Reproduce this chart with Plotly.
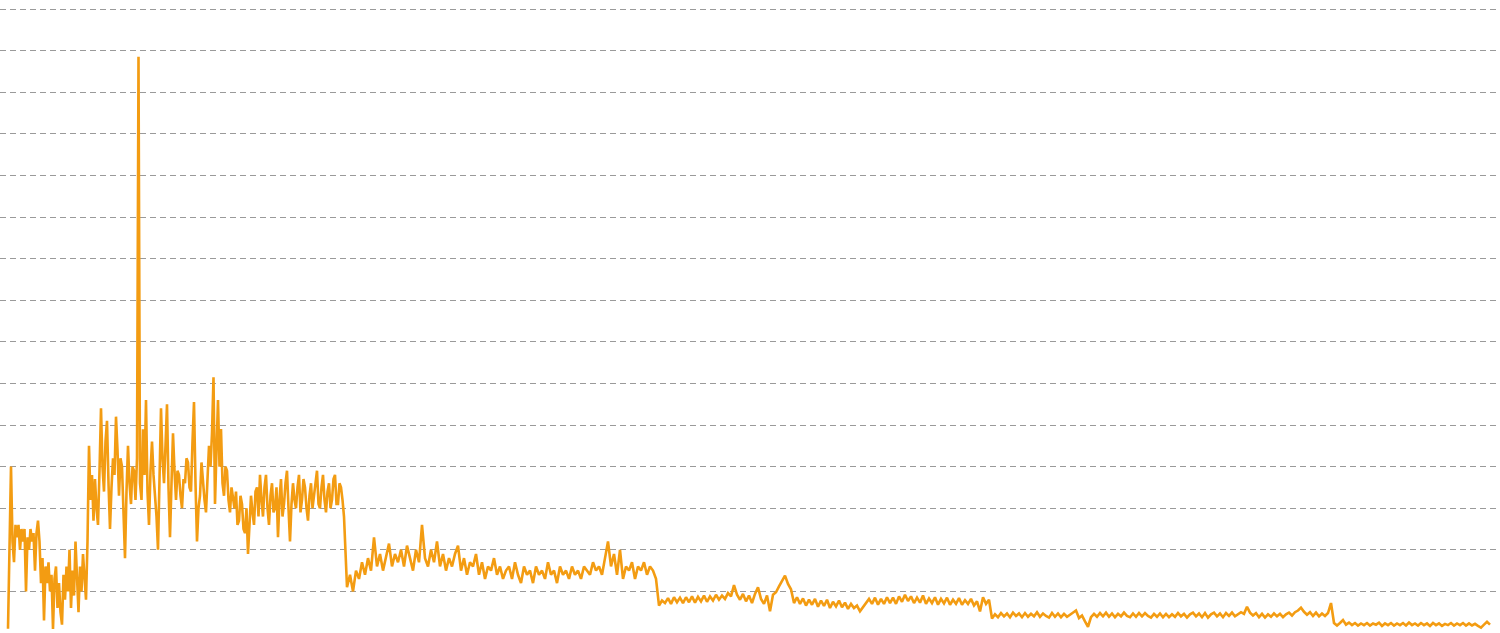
import plotly.graph_objects as go

# ---- Series values (chronological) ----
# Early, very noisy period (sampled twice as densely as the rest)
seg_ab = [0.1, 2.4, 4.0, 2.2, 1.7, 2.6, 2.3, 2.6, 2.0, 2.5,
          2.2, 2.5, 1.0, 2.3, 2.0, 2.5, 2.2, 2.4, 1.5, 2.4,
          2.7, 2.2, 1.2, 1.8, 0.3, 1.6, 1.2, 1.7, 1.0, 1.4,
          0.1, 1.3, 1.6, 0.6, 1.2, 0.5, 0.2, 1.4, 0.8, 1.6,
          1.0, 2.0, 0.6, 1.5, 0.9, 2.2, 1.2, 0.5, 1.6, 1.0,
          1.9, 1.3, 0.8, 2.2, 4.5, 3.2, 3.8, 2.7, 3.7, 3.0,
          2.6, 3.9, 5.4, 4.0, 3.4, 4.6, 5.1, 3.6, 2.5, 3.5,
          4.2, 3.8, 5.2, 4.4, 3.3, 4.2, 4.0, 2.9, 1.8, 3.4,
          4.5, 3.6, 3.1, 4.0, 3.9, 3.2, 4.2, 13.85, 3.6, 3.2,
          4.9, 3.8, 5.6, 3.4, 2.6, 3.9, 4.6, 3.8, 3.4, 2.8,
          2.0, 3.5, 5.4, 4.2, 3.6, 4.5, 5.5, 3.5, 2.3, 3.6,
          4.8, 3.9, 3.2, 3.9, 3.8, 3.3, 3.0, 3.7, 3.6, 4.2,
          4.1, 3.5, 3.4, 4.6, 5.55, 3.6, 2.2, 3.0, 3.3, 4.1,
          3.6, 3.2, 2.9, 3.8, 4.5, 4.0, 4.8, 6.15, 3.1, 4.4,
          5.6, 4.0, 4.9, 3.6, 3.3, 4.0, 3.9, 3.2, 2.9, 3.5,
          3.2, 3.0, 3.4, 2.6, 2.7, 3.3, 3.1, 2.5, 2.4, 3.0,
          1.9, 2.6, 3.3, 2.9, 2.6, 3.4, 3.5, 2.8, 3.8, 3.2,
          2.8, 3.5, 3.8, 3.0, 2.6, 3.3, 3.6, 2.9, 3.0, 3.5,
          2.3, 3.2, 3.7, 2.8, 3.1, 3.6, 3.9, 3.0, 2.2, 3.1,
          3.6, 3.2, 3.0, 3.5, 3.8, 2.9, 3.2, 3.7, 3.5, 3.0,
          2.7, 3.3, 3.6, 3.0, 3.3, 3.6, 3.9, 3.1, 3.0, 3.5,
          3.8, 3.2, 2.9, 3.4, 3.6, 3.0, 3.2, 3.7, 3.8, 3.1,
          3.1, 3.6, 3.5, 3.2, 2.8]
seg_c = [1.1, 1.4, 1.0, 1.5, 1.3, 1.7, 1.4, 1.8, 1.5, 2.3,
         1.6, 1.9, 1.5, 1.8, 2.15, 1.6, 1.9, 1.7, 2.0, 1.6,
         2.1, 1.8, 1.5, 2.0, 1.7, 2.6, 1.8, 1.6, 2.0, 1.7,
         2.2, 1.6, 1.9, 1.5, 1.8, 1.6, 1.9, 2.1, 1.5, 1.8,
         1.4, 1.7, 1.6, 1.9, 1.4, 1.7, 1.3, 1.6, 1.5, 1.8,
         1.4, 1.6, 1.3, 1.5, 1.6, 1.3, 1.7, 1.4, 1.2, 1.6,
         1.4, 1.5, 1.2, 1.6, 1.4, 1.5, 1.3, 1.7, 1.4, 1.5,
         1.2, 1.6, 1.4, 1.5, 1.3, 1.6, 1.4, 1.5, 1.3, 1.6,
         1.5, 1.4, 1.7, 1.5, 1.6, 1.4, 1.8, 2.2, 1.6, 1.9,
         1.4, 2.0, 1.3, 1.6, 1.5, 1.7, 1.3, 1.6, 1.5, 1.7,
         1.4, 1.6, 1.5, 1.3]
seg_d = [0.66, 0.78, 0.72, 0.84, 0.7, 0.86, 0.74, 0.85, 0.72, 0.86,
         0.74, 0.88, 0.73, 0.87, 0.76, 0.9, 0.75, 0.88, 0.78, 0.92,
         0.8, 0.9, 0.82, 0.96, 0.88, 1.15, 0.92, 0.8, 0.94, 0.76,
         0.9, 0.72, 0.94, 1.1, 0.82, 0.7, 0.9, 0.52, 0.92, 0.98,
         1.12, 1.25, 1.38, 1.18, 1.05, 0.72, 0.86, 0.7, 0.83, 0.66,
         0.8, 0.68, 0.82, 0.63, 0.78, 0.65, 0.8, 0.6, 0.75, 0.64,
         0.78, 0.62, 0.73, 0.58, 0.7, 0.6, 0.66, 0.52, 0.62, 0.74,
         0.82, 0.7, 0.85, 0.68, 0.82, 0.7, 0.86, 0.72, 0.85, 0.7,
         0.88, 0.75, 0.92, 0.77, 0.88, 0.72, 0.85, 0.73, 0.9, 0.7,
         0.83, 0.72, 0.86, 0.68, 0.82, 0.71, 0.85, 0.68, 0.8, 0.7,
         0.84, 0.68, 0.79, 0.7, 0.82, 0.66, 0.76, 0.52, 0.86, 0.7,
         0.8]
seg_e = [0.35, 0.45, 0.38, 0.48, 0.40, 0.47, 0.38, 0.49, 0.41, 0.47,
         0.38, 0.48, 0.39, 0.46, 0.40, 0.50, 0.39, 0.47, 0.41, 0.37,
         0.48, 0.39, 0.47, 0.38, 0.46, 0.39, 0.44, 0.49, 0.54, 0.36,
         0.42, 0.28, 0.15, 0.38, 0.46, 0.39, 0.48, 0.40, 0.49, 0.39,
         0.47, 0.38, 0.46, 0.40, 0.49, 0.41, 0.38, 0.47, 0.39, 0.48,
         0.40, 0.48, 0.41, 0.37, 0.46, 0.39, 0.47, 0.38, 0.46, 0.38,
         0.45, 0.39, 0.48, 0.40, 0.46, 0.37, 0.45, 0.49, 0.40, 0.47,
         0.38, 0.48, 0.37, 0.45, 0.49, 0.40, 0.47, 0.38, 0.48, 0.41,
         0.49, 0.40, 0.46, 0.50, 0.46, 0.63, 0.49, 0.42, 0.48, 0.38,
         0.46, 0.37, 0.45, 0.39, 0.47, 0.40, 0.46, 0.38, 0.45, 0.49,
         0.42, 0.50, 0.54, 0.61, 0.51, 0.44, 0.50, 0.41, 0.49, 0.40,
         0.47, 0.41, 0.48, 0.72]
seg_f = [0.24, 0.18, 0.24, 0.31, 0.2, 0.25, 0.19, 0.24, 0.18, 0.23,
         0.19, 0.24, 0.18, 0.23, 0.2, 0.25, 0.17, 0.23, 0.19, 0.24,
         0.18, 0.23, 0.19, 0.24, 0.18, 0.25, 0.19, 0.23, 0.18, 0.24,
         0.19, 0.23, 0.17, 0.24, 0.19, 0.23, 0.17, 0.22, 0.19, 0.24,
         0.18, 0.23, 0.19, 0.24, 0.18, 0.23, 0.18, 0.22, 0.17, 0.13,
         0.2, 0.27, 0.2]

# sampling interval (time units) of the dense early period and of the rest
step_dense = 1
step_sparse = 2

rest = seg_c + seg_d + seg_e + seg_f
values = seg_ab + rest
t_dense = list(range(0, len(seg_ab) * step_dense, step_dense))
t_start = t_dense[-1] + step_sparse
t_sparse = list(range(t_start, t_start + len(rest) * step_sparse, step_sparse))
x = t_dense + t_sparse

fig = go.Figure()
fig.add_trace(go.Scatter(
    x=x, y=values, mode="lines",
    line=dict(color="#F39C12", width=2.6),
    hoverinfo="skip", showlegend=False,
))

px_per_t = (1490.0 - 8.0) / (x[-1] - x[0])
x0 = x[0] - 8.0 / px_per_t
x1 = x0 + 1500.0 / px_per_t

fig.update_layout(
    width=1500, height=633,
    margin=dict(l=0, r=0, t=0, b=0),
    paper_bgcolor="white", plot_bgcolor="white",
    xaxis=dict(range=[x0, x1], showgrid=False, zeroline=False,
               showticklabels=False, showline=False, ticks=""),
    yaxis=dict(range=[0, 633 / 41.6], tick0=0, dtick=1,
               showgrid=True, gridcolor="#9a9a9a", gridwidth=1,
               griddash="6px,4px", zeroline=False,
               showticklabels=False, showline=False, ticks=""),
)

fig.write_html(
    "out.html",
    config={"displayModeBar": False},
    post_script="document.body.style.margin='0';document.body.style.overflow='hidden';",
)
